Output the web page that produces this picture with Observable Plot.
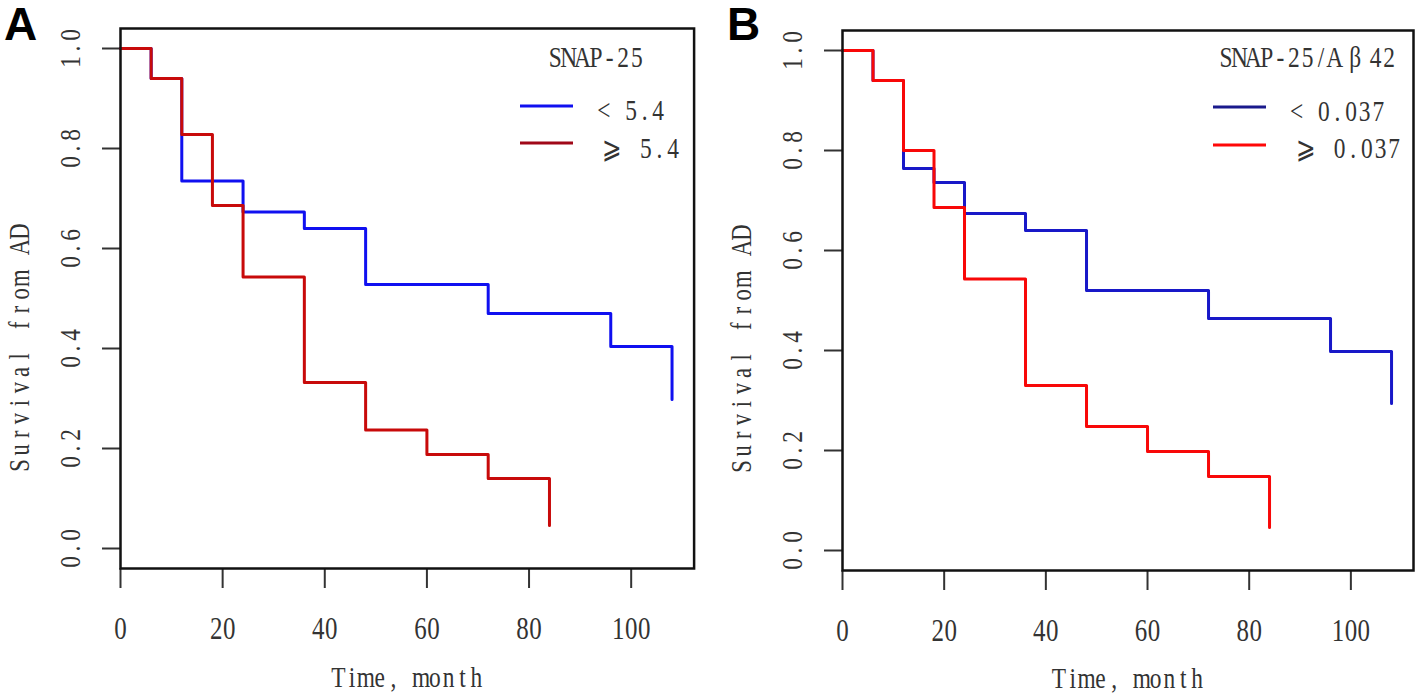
<!DOCTYPE html>
<html>
<head>
<meta charset="utf-8">
<script src="https://cdn.jsdelivr.net/npm/d3@7"></script>
<script src="https://cdn.jsdelivr.net/npm/@observablehq/plot@0.6"></script>
<style>
  html, body { margin: 0; padding: 0; background: #fff; }
  #wrap { display: flex; width: 1418px; height: 695px; }
  .panel { position: relative; width: 709px; height: 695px; }
  .panel svg.legend { position: absolute; left: 0; top: 0; pointer-events: none; }
  .letter { position: absolute; font-family: "Liberation Sans", Arial, sans-serif; font-weight: bold; font-size: 46px; line-height: 1; color: #000; }
</style>
</head>
<body>
<div id="wrap"></div>
<script>
// ---------- data ----------
const xTicks = [0, 20, 40, 60, 80, 100];
const yTicks = [0, 0.2, 0.4, 0.6, 0.8, 1.0];
const yTitle = "Survival from AD";
const xTitle = "Time, month";
const panelLetters = ["A", "B"];
const legendTitles = ["SNAP-25", "SNAP-25/Aβ42"];
const legendLabelsA = ["< 5.4", "⩾ 5.4"];
const legendLabelsB = ["< 0.037", "⩾ 0.037"];

// Panel A : SNAP-25
const timeA_low  = [0, 6, 12, 24, 36, 48, 72, 96, 108];
const survA_low  = [1.0, 0.94, 0.735, 0.673, 0.64, 0.528, 0.47, 0.404, 0.298];
const timeA_high = [0, 6, 12, 18, 24, 36, 48, 60, 72, 84];
const survA_high = [1.0, 0.94, 0.828, 0.686, 0.543, 0.332, 0.237, 0.188, 0.14, 0.046];

// Panel B : SNAP-25/Aβ42
const timeB_low  = [0, 6, 12, 18, 24, 36, 48, 72, 96, 108];
const survB_low  = [1.0, 0.94, 0.764, 0.736, 0.674, 0.64, 0.52, 0.464, 0.398, 0.294];
const timeB_high = [0, 6, 12, 18, 24, 36, 48, 60, 72, 84];
const survB_high = [1.0, 0.94, 0.80, 0.686, 0.543, 0.33, 0.248, 0.198, 0.148, 0.046];

// ---------- helpers ----------
const FONT = '"Liberation Serif", "DejaVu Serif", "DejaVu Sans", serif';
const TXT = "#333";
const fmtY = d3.format(".1f");
const toRows = (t, s) => t.map((d, i) => ({t: d, s: s[i]}));

// monospace-like rendering (half-width cells, non-ASCII = full-width), condensed glyphs
function mono(text, cell, sx) {
  const chars = [...text.textContent];
  if (!chars.length) return;
  const w = chars.map(c => (c.charCodeAt(0) > 127 ? 2 : 1));
  const total = d3.sum(w);
  let acc = 0;
  const xs = chars.map((c, i) => { const cx = (acc + w[i] / 2 - total / 2) * cell / sx; acc += w[i]; return cx.toFixed(2); });
  const x0 = parseFloat(text.getAttribute("x")) || 0;
  const tr = text.getAttribute("transform") || "";
  text.setAttribute("transform", `${tr} translate(${x0},0) scale(${sx},1)`);
  text.setAttribute("x", xs.join(" "));
  text.setAttribute("text-anchor", "middle");
}

const xTickSet = new Set(xTicks.map(String));
const yTickSet = new Set(yTicks.map(fmtY));

function panel(cfg) {
  const div = document.createElement("div");
  div.className = "panel";
  const low = toRows(cfg.tLow, cfg.sLow), high = toRows(cfg.tHigh, cfg.sHigh);
  const chart = Plot.plot({
    width: 709, height: 695,
    marginLeft: cfg.mL, marginRight: cfg.mR, marginTop: cfg.mT, marginBottom: cfg.mB,
    x: {domain: [0, 112.32]},
    y: {domain: [-0.04, 1.04]},
    style: {fontFamily: FONT, color: TXT, background: "white", overflow: "visible"},
    marks: [
      Plot.axisX({ticks: xTicks, tickSize: 20, tickFormat: () => "", label: null, stroke: "#333", strokeWidth: 2}),
      Plot.axisY({ticks: yTicks, tickSize: 18, tickFormat: () => "", label: null, stroke: "#333", strokeWidth: 2}),
      Plot.line(low,  {x: "t", y: "s", curve: "step-after", stroke: cfg.cLow,  strokeWidth: 3}),
      Plot.line(high, {x: "t", y: "s", curve: "step-after", stroke: cfg.cHigh, strokeWidth: 3}),
      Plot.frame({stroke: "#111", strokeWidth: 2.5}),
      Plot.text(xTicks, {x: d => d, text: d => String(d), frameAnchor: "bottom", dy: 60, fontSize: 32, lineAnchor: "middle", fill: TXT}),
      Plot.text(yTicks, {y: d => d, text: d => fmtY(d), frameAnchor: "left", dx: -50, rotate: -90, fontSize: 30, lineAnchor: "middle", fill: TXT}),
      Plot.text([yTitle], {text: d => d, frameAnchor: "left", dx: -101, dy: cfg.yTitleDy, rotate: -90, fontSize: 29, lineAnchor: "middle", fill: TXT}),
      Plot.text([xTitle], {text: d => d, frameAnchor: "bottom", dy: cfg.xTitleDy, fontSize: 30, lineAnchor: "middle", fill: TXT})
    ]
  });
  div.appendChild(chart);
  chart.querySelectorAll("text").forEach(t => {
    const s = t.textContent;
    if (!s) return;
    if (s === yTitle) mono(t, 15.6, 0.78);
    else if (s === xTitle) mono(t, 13.8, 0.78);
    else if (yTickSet.has(s)) mono(t, 13.5, 0.78);
    else if (xTickSet.has(s)) mono(t, 13, 0.78);
  });

  // legend overlay
  const L = cfg.legend;
  const svg = d3.select(div).append("svg").attr("class", "legend").attr("width", 709).attr("height", 695)
    .style("font-family", FONT).style("fill", TXT);
  svg.append("text").attr("x", L.titleX).attr("y", L.titleY).attr("font-size", 30).text(L.title);
  L.items.forEach(it => {
    svg.append("line").attr("x1", it.x1).attr("x2", it.x2).attr("y1", it.ly).attr("y2", it.ly)
      .attr("stroke", it.color).attr("stroke-width", 3);
    svg.append("text").attr("x", it.tx).attr("y", it.ty).attr("font-size", 30).text(it.label);
  });
  svg.selectAll("text").each(function () { mono(this, 13.6, 0.78); });

  const letter = document.createElement("div");
  letter.className = "letter";
  letter.textContent = cfg.letter;
  letter.style.left = cfg.letterX + "px";
  letter.style.top = "1px";
  div.appendChild(letter);
  return div;
}

const wrap = document.getElementById("wrap");
wrap.appendChild(panel({
  letter: panelLetters[0], letterX: 4,
  mL: 120, mR: 15.4, mT: 28, mB: 127,
  tLow: timeA_low, sLow: survA_low, tHigh: timeA_high, sHigh: survA_high,
  cLow: "#1010f0", cHigh: "#c80a0a",
  yTitleDy: 50, xTitleDy: 108.4,
  legend: {
    title: legendTitles[0], titleX: 596, titleY: 67,
    items: [
      {label: legendLabelsA[0], color: "#1010f0", x1: 520, x2: 573, ly: 106, tx: 631, ty: 120},
      {label: legendLabelsA[1], color: "#a00818", x1: 520, x2: 573, ly: 143, tx: 639, ty: 158}
    ]
  }
}));
wrap.appendChild(panel({
  letter: panelLetters[1], letterX: 18,
  mL: 133, mR: 5, mT: 30, mB: 125,
  tLow: timeB_low, sLow: survB_low, tHigh: timeB_high, sHigh: survB_high,
  cLow: "#1818c8", cHigh: "#f80808",
  yTitleDy: 49, xTitleDy: 107.4,
  legend: {
    title: legendTitles[1], titleX: 598.5, titleY: 67,
    items: [
      {label: legendLabelsB[0], color: "#1a1a8c", x1: 504, x2: 557, ly: 107, tx: 628.5, ty: 121},
      {label: legendLabelsB[1], color: "#ff0808", x1: 504, x2: 557, ly: 145, tx: 637.5, ty: 158}
    ]
  }
}));
</script>
</body>
</html>
